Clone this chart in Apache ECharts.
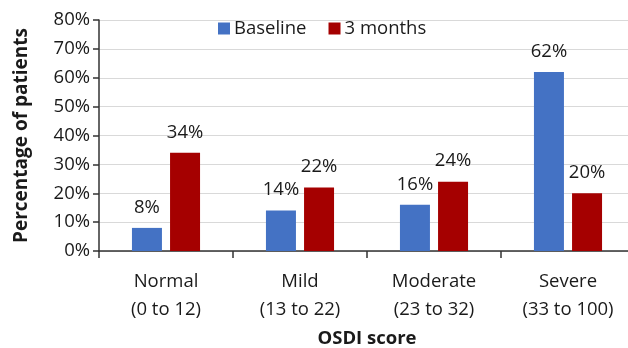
<!DOCTYPE html>
<html>
<head>
<meta charset="utf-8">
<script src="https://cdn.jsdelivr.net/npm/echarts@6/dist/echarts.min.js"></script>
<style>
  html, body { margin: 0; padding: 0; background: #fff; }
  #chart { width: 628px; height: 348px; }
</style>
</head>
<body>
<div id="chart"></div>
<script>
// OSDI severity categories and share of patients (%) per visit
const categories = ['Normal\n(0 to 12)', 'Mild\n(13 to 22)', 'Moderate\n(23 to 32)', 'Severe\n(33 to 100)'];
const baseline = [8, 14, 16, 62];
const threeMonths = [34, 22, 24, 20];
const seriesNames = ['Baseline', '3 months'];

const FONT = '"Open Sans", "Noto Sans", sans-serif';
const TEXT = '#1a1a1a';
const SIZE = 18.5;

const chart = echarts.init(document.getElementById('chart'), null, { renderer: 'canvas' });

const barLabel = {
  show: true,
  position: 'top',
  distance: 11,
  formatter: p => p.value + '%',
  fontFamily: FONT,
  fontSize: SIZE,
  color: TEXT
};

chart.setOption({
  animation: false,
  textStyle: { fontFamily: FONT },
  legend: {
    data: seriesNames,
    top: 14,
    left: 213,
    itemWidth: 12,
    itemHeight: 12,
    itemGap: 22,
    icon: 'rect',
    textStyle: { fontFamily: FONT, fontSize: SIZE, color: TEXT, padding: [0, 0, 0, -1] }
  },
  grid: { left: 99, top: 20, width: 536, height: 231, containLabel: false, outerBoundsMode: 'none' },
  xAxis: {
    type: 'category',
    data: categories,
    name: 'OSDI score',
    nameLocation: 'middle',
    nameGap: 72,
    nameTextStyle: { fontFamily: FONT, fontSize: 18.5, fontWeight: 'bold', color: TEXT },
    axisLine: { lineStyle: { color: '#333', width: 1.5 } },
    axisTick: { show: true, length: 7, alignWithLabel: false, lineStyle: { color: '#333', width: 1.5 } },
    axisLabel: { fontFamily: FONT, fontSize: SIZE, color: TEXT, lineHeight: 28, margin: 17 }
  },
  yAxis: {
    type: 'value',
    min: 0,
    max: 80,
    interval: 10,
    name: 'Percentage of patients',
    nameLocation: 'middle',
    nameGap: 68,
    nameTextStyle: { fontFamily: FONT, fontSize: 19, fontWeight: 'bold', color: TEXT },
    axisLine: { show: true, lineStyle: { color: '#333', width: 1.5 } },
    axisTick: { show: true, length: 6, lineStyle: { color: '#333', width: 1.5 } },
    axisLabel: { formatter: '{value}%', fontFamily: FONT, fontSize: SIZE, color: TEXT, margin: 9 },
    splitLine: { show: true, lineStyle: { color: '#d9d9d9', width: 1 } }
  },
  series: [
    {
      name: seriesNames[0],
      type: 'bar',
      data: baseline,
      barWidth: 30,
      barGap: '27%',
      itemStyle: { color: '#4472C4' },
      label: barLabel
    },
    {
      name: seriesNames[1],
      type: 'bar',
      data: threeMonths,
      barWidth: 30,
      itemStyle: { color: '#A50000' },
      label: barLabel
    }
  ]
});
</script>
</body>
</html>
